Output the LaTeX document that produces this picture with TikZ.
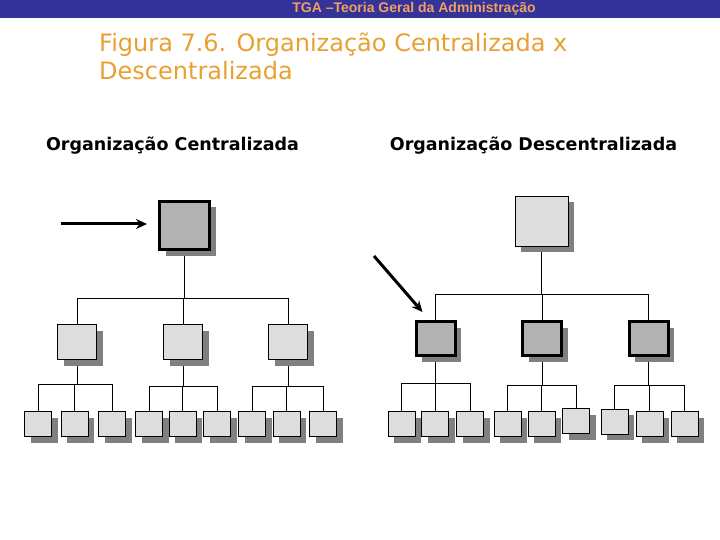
\documentclass[tikz,border=0pt]{standalone}
\usepackage{fontspec}
\usepackage{xcolor}
\usepackage{tikz}
\usetikzlibrary{calc,arrows.meta,shadows}

\newfontfamily\cabfont{Liberation Sans}
\newfontfamily\titfont{DejaVu Sans}

\definecolor{barra}{RGB}{51,51,153}
\definecolor{laranjaCab}{RGB}{240,160,96}
\definecolor{laranja}{RGB}{232,160,48}
\definecolor{cinzaClaro}{RGB}{221,221,221}
\definecolor{cinzaMedio}{RGB}{178,178,178}
\definecolor{sombra}{RGB}{128,128,128}

\pgfdeclarelayer{fundo}
\pgfsetlayers{fundo,main}

\begin{document}
\begin{tikzpicture}[
    x=1pt, y=-1pt,
    >=Stealth,
    caixa/.style={draw, line width=0.9pt, fill=cinzaClaro, inner sep=0pt,
        drop shadow={shadow xshift=6pt, shadow yshift=-6pt, fill=sombra, opacity=1}},
    chefe/.style={caixa, line width=3pt, fill=cinzaMedio},
    folha/.style={minimum width=27pt, minimum height=25pt},
    medio/.style={minimum width=39pt, minimum height=35pt},
    topo/.style={minimum width=50pt, minimum height=48pt},
    liga/.style={line width=0.9pt},
    seta/.style={line width=3pt, -{Stealth[length=11pt,width=10pt]}}
]
\useasboundingbox (0,0) rectangle (720,540);

%------------------------------------------------
% Cabecalho e titulos
%------------------------------------------------
\fill[barra] (0,0) rectangle (720,18);
\node[font=\cabfont\bfseries\fontsize{14}{16}\selectfont, text=laranjaCab]
    (cab) at (414,9) {TGA –Teoria Geral da Administração};

\node[anchor=base west, inner sep=0pt, text=laranja,
    font=\titfont\fontsize{24}{28}\selectfont]
    (tit1) at (99,52) {Figura 7.6. Organização Centralizada x};
\node[anchor=base west, inner sep=0pt, text=laranja,
    font=\titfont\fontsize{24}{28}\selectfont]
    (tit2) at (99,80) {Descentralizada};

\node[anchor=base, font=\titfont\bfseries\fontsize{17.5}{20}\selectfont]
    (subC) at (172.5,151) {Organização Centralizada};
\node[anchor=base, font=\titfont\bfseries\fontsize{17.5}{20}\selectfont]
    (subD) at (533.5,151) {Organização Descentralizada};

%------------------------------------------------
% Organizacao centralizada
%------------------------------------------------
\node[chefe, topo] (cTopo) at (184.5,225.5) {};
\foreach \x/\nome in {77/cM1, 183/cM2, 288/cM3}
    \node[caixa, medio] (\nome) at (\x,342) {};
\foreach \x/\nome in {
38/cF1, 74.5/cF2, 112/cF3,
149/cF4, 182.5/cF5, 217/cF6,
252/cF7, 286.5/cF8, 323/cF9}
    \node[caixa, folha] (\nome) at (\x,424) {};

% seta para o topo
\coordinate (setaC) at (61,224);
\draw[seta, shorten >=11pt] (setaC) -- (setaC -| cTopo.west);

%------------------------------------------------
% Organizacao descentralizada
%------------------------------------------------
\node[caixa, minimum width=53pt, minimum height=50pt] (dTopo) at (541.5,221) {};
\foreach \x/\nome in {435.5/dM1, 542/dM2, 648.5/dM3}
    \node[chefe, medio, minimum height=34pt] (\nome) at (\x,338.5) {};
\foreach \x/\y/\nome in {
401.5/424/dF1, 435/424/dF2, 470/424/dF3,
507.5/424/dF4, 541.5/424/dF5, 576/421/dF6,
614.5/421.5/dF7, 649.5/424/dF8, 684.5/424/dF9}
    \node[caixa, folha] (\nome) at (\x,\y) {};

% seta para o primeiro nivel
\coordinate (setaD) at (374,256);
\draw[seta] (setaD) -- ([shift={(8,-8)}]dM1.north west);

%------------------------------------------------
% Ligacoes (atras das caixas)
%------------------------------------------------
\begin{pgfonlayer}{fundo}
\foreach \pai/\a/\b/\c/\y in {
cTopo/cM1/cM2/cM3/298,
cM1/cF1/cF2/cF3/384,
cM2/cF4/cF5/cF6/386,
cM3/cF7/cF8/cF9/386,
dTopo/dM1/dM2/dM3/294,
dM1/dF1/dF2/dF3/383,
dM2/dF4/dF5/dF6/385,
dM3/dF7/dF8/dF9/385}
{
    \coordinate (bus) at (0,\y);
    \draw[liga] (\pai.south) -- (\pai.south |- bus);
    \draw[liga] (\a.north |- bus) -- (\c.north |- bus);
    \foreach \f in {\a,\b,\c}
        \draw[liga] (\f.north) -- (\f.north |- bus);
}
\end{pgfonlayer}

\end{tikzpicture}
\end{document}
